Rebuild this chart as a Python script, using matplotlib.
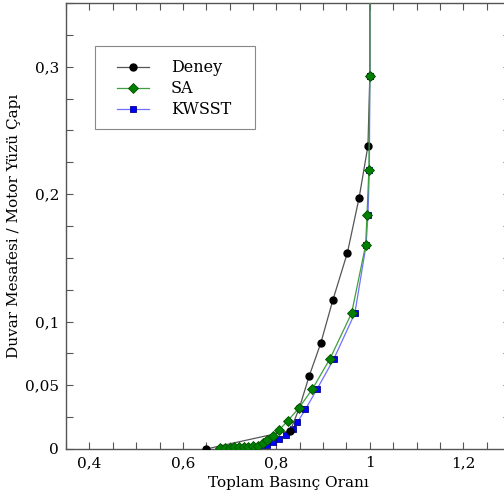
import matplotlib
matplotlib.use("Agg")
import matplotlib.pyplot as plt
from matplotlib.ticker import MultipleLocator, FuncFormatter
from matplotlib.patches import Rectangle

# values
deney_x = [0.65, 0.830, 0.849, 0.870, 0.895, 0.921, 0.952, 0.977, 0.996, 1.0, 1.0]
deney_y = [0.0, 0.0145, 0.032, 0.057, 0.083, 0.117, 0.154, 0.197, 0.238, 0.293, 0.40]

sa_x = [0.68, 0.69, 0.70, 0.71, 0.72, 0.73, 0.74, 0.75, 0.760, 0.771, 0.781, 0.792,
        0.806, 0.824, 0.848, 0.877, 0.915, 0.961, 0.991, 0.994, 0.998, 1.0, 1.0]
sa_y = [0.0005, 0.0008, 0.001, 0.0012, 0.0014, 0.0016, 0.0018, 0.0021, 0.0026, 0.0045,
        0.0071, 0.0104, 0.0149, 0.022, 0.032, 0.047, 0.071, 0.1066, 0.160, 0.184, 0.219,
        0.293, 0.40]

kw_x = [0.70, 0.71, 0.72, 0.73, 0.74, 0.75, 0.76, 0.770, 0.781, 0.792, 0.806, 0.821,
        0.835, 0.845, 0.862, 0.887, 0.923, 0.968, 0.992, 0.996, 0.999, 1.0, 1.0]
kw_y = [0.0, 0.0002, 0.0004, 0.0006, 0.0008, 0.001, 0.0015, 0.0022, 0.0031, 0.0053,
        0.0079, 0.011, 0.0157, 0.021, 0.031, 0.047, 0.0707, 0.1066, 0.160, 0.184, 0.219,
        0.293, 0.40]

x_labels = {0.4: "0,4", 0.6: "0,6", 0.8: "0,8", 1.0: "1", 1.2: "1,2"}
y_labels = {0.0: "0", 0.05: "0,05", 0.1: "0,1", 0.2: "0,2", 0.3: "0,3"}

plt.rcParams["font.family"] = ["DejaVu Serif"]

fig = plt.figure(figsize=(5.04, 5.0), dpi=100)
ax = fig.add_axes([0.131, 0.102, 0.881, 0.892])

h_kw, = ax.plot(kw_x, kw_y, color="#7070ff", lw=0.9, marker="s", ms=5,
                mfc="#0000ff", mec="#00008b", mew=0.6, zorder=2, label="KWSST")
h_de, = ax.plot(deney_x, deney_y, color="#555555", lw=0.9, marker="o", ms=5,
                mfc="black", mec="black", zorder=3, label="Deney")
h_sa, = ax.plot(sa_x, sa_y, color="#3f9f3f", lw=0.9, marker="D", ms=5,
                mfc="#008000", mec="#005000", mew=0.6, zorder=4, label="SA")

ax.set_xlim(0.35, 1.3)
ax.set_ylim(0, 0.35)

ax.xaxis.set_major_locator(MultipleLocator(0.05))
ax.yaxis.set_major_locator(MultipleLocator(0.025))


def fmt_x(v, pos):
    for k, s in x_labels.items():
        if abs(v - k) < 1e-6:
            return s
    return ""


def fmt_y(v, pos):
    for k, s in y_labels.items():
        if abs(v - k) < 1e-6:
            return s
    return ""


ax.xaxis.set_major_formatter(FuncFormatter(fmt_x))
ax.yaxis.set_major_formatter(FuncFormatter(fmt_y))
ax.tick_params(direction="in", top=True, right=True, length=5, width=0.8,
               color="#555555", labelsize=11, pad=5)
for sp in ax.spines.values():
    sp.set_color("#555555")
    sp.set_linewidth(1.0)

ax.set_xlabel("Toplam Basınç Oranı", fontsize=11, labelpad=4)
ax.set_ylabel("Duvar Mesafesi / Motor Yüzü Çapı", fontsize=11, labelpad=3)

# legend box drawn apart so the padding can differ across and down
ax.add_patch(Rectangle((0.0653, 0.7175), 0.3604, 0.1861, transform=ax.transAxes,
                       facecolor="white", edgecolor="#888888", lw=0.8, zorder=5))
leg = ax.legend(handles=[h_de, h_sa, h_kw], loc="upper left",
                bbox_to_anchor=(0.114, 0.874), borderaxespad=0, fontsize=11.5,
                frameon=False, handlelength=2.0, handletextpad=1.4, borderpad=0,
                labelspacing=0.25)
leg.set_zorder(6)

fig.savefig("out.png", dpi=100)
